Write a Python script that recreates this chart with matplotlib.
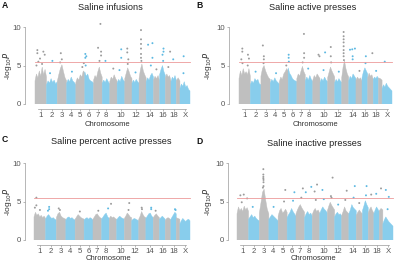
import numpy as np
import matplotlib
matplotlib.use("Agg")
import matplotlib.pyplot as plt

plt.rcParams['font.family'] = ['Liberation Sans', 'DejaVu Sans']

# ---------------- data ----------------
chrom_names = ['1', '2', '3', '4', '5', '6', '7', '8', '9', '10', '11', '12', '13',
               '14', '15', '16', '17', '18', '19', 'X']
chrom_len = [195.5, 182.1, 160.0, 156.5, 151.8, 149.7, 145.4, 129.4, 124.6, 130.7,
             122.1, 120.1, 120.4, 124.9, 104.0, 98.2, 94.9, 90.7, 61.4, 171.0]
tick_labels = ['1', '2', '3', '4', '5', '6', '7', '8', '10', '12', '14', '16', '18', 'X']
titles = ['Saline infusions', 'Saline active presses',
          'Saline percent active presses', 'Saline inactive presses']
letters = ['A', 'B', 'C', 'D']
threshold = 5.4

# top of the dense SNP mass (-log10 P) read along each chromosome
env_A = [[3.0, 3.9, 3.4, 4.3, 3.6, 4.8, 3.8, 4.5, 3.5], [2.5, 3.0, 2.7, 3.3, 2.8, 3.1, 2.6, 2.9],
         [2.9, 3.8, 4.6, 5.1, 4.2, 3.4, 3.0], [2.7, 3.2, 2.9, 3.5, 3.0, 2.8, 2.5],
         [2.8, 3.4, 3.1, 3.8, 3.5, 4.3, 4.0], [4.2, 3.6, 3.9, 3.2, 3.0, 2.9, 2.7],
         [3.1, 3.7, 3.4, 4.2, 4.8, 4.0, 3.5], [2.7, 3.1, 2.8, 3.3, 2.9, 2.6],
         [2.9, 3.5, 3.2, 3.8, 3.3, 3.0], [2.7, 3.2, 2.9, 3.6, 3.1, 2.9],
         [3.3, 4.0, 4.7, 4.2, 3.6, 3.3], [2.7, 3.1, 2.8, 3.2, 2.9, 2.7],
         [3.3, 4.5, 5.2, 4.3, 3.8, 3.4], [2.9, 3.4, 3.1, 3.7, 4.0, 3.5],
         [3.1, 3.6, 3.3, 3.7, 3.0], [3.8, 4.5, 5.0, 4.2, 3.7], [3.4, 3.9, 3.5, 3.7, 3.0],
         [2.9, 3.5, 3.2, 3.7, 3.1], [3.0, 3.4, 3.0], [2.0, 2.6, 2.3, 2.9, 2.2, 2.4, 1.9, 1.7]]
env_B = [[3.3, 4.3, 3.7, 4.6, 3.9, 4.2, 3.8, 4.6, 3.6], [2.5, 3.0, 2.7, 3.3, 3.0, 3.2, 2.6, 2.5],
         [3.6, 4.6, 5.0, 4.3, 3.8, 3.4, 3.2], [2.7, 3.2, 2.9, 3.4, 3.0, 2.8, 2.6],
         [2.9, 3.5, 3.2, 3.9, 4.2, 4.6, 4.3], [4.7, 4.0, 3.7, 3.3, 3.1, 3.0, 2.9],
         [3.3, 3.9, 3.6, 4.3, 4.9, 4.2, 3.8], [3.0, 3.5, 3.1, 3.7, 3.2, 2.9],
         [3.1, 3.7, 3.4, 3.9, 3.6, 3.3], [2.8, 3.3, 3.0, 3.5, 3.1, 2.9],
         [3.4, 4.1, 4.8, 4.3, 3.9, 3.5], [2.8, 3.2, 2.9, 3.3, 3.0, 2.8],
         [3.4, 4.8, 5.6, 4.6, 3.9, 3.5], [3.0, 3.6, 3.3, 3.9, 3.6, 3.3],
         [3.1, 3.5, 3.2, 3.4, 3.0], [3.4, 4.2, 4.7, 4.3, 3.9], [3.4, 4.0, 3.6, 3.8, 3.2],
         [3.2, 3.5, 3.3, 3.6, 3.3], [3.4, 3.3, 3.1], [2.0, 2.5, 2.2, 2.7, 2.3, 2.1, 1.9, 1.7]]
env_C = [[3.0, 3.6, 3.2, 3.4, 3.0, 3.2, 2.9, 3.1, 2.8], [2.7, 3.1, 3.3, 3.0, 2.8, 2.9, 2.7, 2.6],
         [2.9, 3.4, 3.6, 3.1, 2.9, 2.8, 2.7], [2.6, 2.9, 3.0, 2.8, 2.9, 2.7, 2.6],
         [2.7, 3.0, 3.3, 3.1, 2.9, 2.8, 2.7], [2.6, 2.8, 2.9, 2.7, 2.9, 2.8, 2.6],
         [2.7, 3.0, 3.3, 3.4, 3.1, 2.9, 2.8], [2.7, 3.0, 3.3, 3.5, 3.0, 2.8],
         [2.8, 3.1, 2.9, 3.0, 2.8, 2.7], [2.6, 2.9, 3.1, 2.9, 2.8, 2.7],
         [2.8, 3.1, 3.5, 3.3, 3.0, 2.9], [2.5, 2.7, 2.8, 2.7, 2.6, 2.5],
         [2.7, 3.1, 3.7, 3.3, 3.0, 2.9], [2.8, 3.1, 3.4, 3.5, 3.1, 2.9],
         [2.9, 3.2, 3.4, 3.1, 2.9], [2.7, 2.9, 3.1, 2.9, 2.7], [2.5, 2.8, 2.9, 2.8, 2.6],
         [2.7, 3.0, 3.3, 3.6, 3.4], [2.9, 2.8, 2.7], [2.1, 2.5, 2.8, 2.6, 2.4, 2.6, 2.7, 2.5]]
env_D = [[3.4, 4.3, 3.8, 4.1, 3.7, 4.4, 3.9, 4.2, 3.7], [2.7, 3.0, 3.3, 2.9, 3.1, 2.8, 2.6, 2.5],
         [3.5, 4.8, 6.2, 6.6, 5.2, 4.0, 3.4], [2.7, 3.0, 3.3, 3.1, 2.9, 2.7, 2.5],
         [3.1, 3.8, 4.1, 3.5, 3.7, 4.0, 3.6], [2.9, 3.3, 3.6, 4.1, 3.7, 3.4, 3.1],
         [3.4, 3.9, 4.3, 4.6, 4.2, 3.9, 3.6], [2.9, 3.4, 3.7, 3.3, 3.5, 3.1],
         [3.3, 3.8, 4.1, 3.7, 3.9, 3.5], [3.4, 3.9, 4.3, 4.0, 3.8, 3.5],
         [3.8, 4.4, 4.9, 4.5, 4.2, 3.9], [3.0, 3.4, 3.6, 3.3, 3.4, 3.1],
         [3.2, 3.7, 4.3, 3.8, 3.6, 3.4], [3.4, 3.9, 4.6, 4.2, 4.0, 3.8],
         [3.2, 3.6, 3.9, 3.6, 3.4], [3.8, 4.4, 5.1, 4.6, 4.2], [3.5, 4.0, 4.3, 3.8, 3.5],
         [3.4, 3.9, 4.3, 4.0, 3.7], [3.8, 4.1, 3.9], [2.1, 2.6, 3.0, 2.7, 2.4, 2.2, 2.0, 1.8]]

# isolated SNPs: (chromosome, position within chromosome in Mb, -log10 P)
top_A = [('1', 40, 7.0), ('1', 40, 6.6), ('1', 57, 5.5), ('1', 85, 5.9), ('1', 142, 6.8),
         ('1', 165, 6.4), ('1', 120, 5.2), ('1', 25, 5.0), ('2', 100, 5.6), ('2', 60, 4.0),
         ('3', 61, 6.6), ('3', 78, 5.8), ('3', 50, 5.4), ('4', 90, 4.2), ('5', 110, 4.8),
         ('5', 135, 5.3), ('6', 9, 6.5), ('6', 9, 6.0), ('6', 26, 6.2), ('6', 15, 5.0),
         ('7', 76, 7.3), ('7', 116, 10.4), ('7', 127, 6.8), ('7', 127, 6.3), ('7', 100, 5.6),
         ('8', 56, 5.6), ('9', 60, 4.6), ('10', 70, 7.1), ('10', 70, 6.0), ('10', 40, 4.4),
         ('11', 42, 7.2), ('11', 42, 6.7), ('11', 60, 5.8), ('11', 50, 5.2), ('12', 60, 4.1),
         ('13', 33, 9.6), ('13', 33, 8.4), ('13', 33, 7.8), ('13', 33, 7.2), ('13', 33, 6.5),
         ('13', 33, 6.0), ('13', 40, 5.6), ('14', 33, 7.7), ('14', 107, 7.9), ('14', 107, 6.0),
         ('14', 80, 5.0), ('15', 50, 4.5), ('16', 66, 7.2), ('16', 66, 6.8), ('16', 49, 6.4),
         ('16', 60, 5.6), ('17', 80, 6.8), ('17', 50, 4.8), ('18', 38, 5.8), ('X', 63, 6.2),
         ('X', 60, 4.0)]
top_B = [('1', 57, 7.2), ('1', 57, 6.8), ('1', 40, 5.8), ('1', 154, 6.4), ('1', 171, 5.9),
         ('1', 60, 5.3), ('1', 150, 5.0), ('2', 90, 4.2), ('3', 33, 7.6), ('3', 50, 6.2),
         ('3', 50, 5.8), ('3', 45, 5.3), ('4', 100, 4.0), ('5', 120, 5.0), ('6', 9, 6.4),
         ('6', 9, 6.0), ('6', 12, 5.5), ('7', 122, 9.1), ('7', 125, 6.6), ('7', 125, 6.0),
         ('7', 100, 5.4), ('8', 50, 4.6), ('9', 98, 6.4), ('9', 115, 6.2), ('10', 87, 6.7),
         ('10', 60, 4.4), ('11', 54, 7.4), ('11', 54, 6.2), ('11', 60, 5.4), ('12', 70, 4.2),
         ('13', 33, 9.35), ('13', 33, 8.8), ('13', 33, 8.4), ('13', 33, 8.0), ('13', 33, 7.5),
         ('13', 33, 7.0), ('13', 33, 6.6), ('13', 33, 6.2), ('13', 38, 5.7), ('14', 22, 7.05),
         ('14', 61, 7.1), ('14', 107, 7.2), ('14', 68, 6.2), ('14', 68, 5.8), ('15', 60, 4.3),
         ('16', 66, 6.2), ('16', 60, 5.3), ('17', 80, 6.6), ('18', 50, 4.3), ('X', 46, 5.5)]
top_C = [('1', 40, 5.5), ('1', 40, 4.5), ('1', 15, 4.2), ('1', 100, 3.9), ('2', 60, 4.3),
         ('2', 60, 4.0), ('2', 40, 3.8), ('3', 40, 4.1), ('3', 60, 3.9), ('5', 80, 3.7),
         ('7', 90, 3.8), ('8', 110, 4.1), ('9', 30, 4.7), ('11', 82, 4.8), ('11', 70, 3.9),
         ('13', 50, 4.2), ('13', 55, 4.0), ('14', 90, 4.2), ('14', 90, 4.0), ('15', 40, 3.8),
         ('18', 70, 4.0), ('18', 80, 3.9)]
top_D = [('1', 57, 5.8), ('1', 114, 5.9), ('1', 171, 5.4), ('1', 80, 4.9), ('2', 70, 4.3),
         ('3', 67, 9.2), ('3', 67, 8.5), ('3', 67, 8.2), ('3', 67, 8.0), ('3', 70, 7.8),
         ('3', 70, 7.5), ('3', 70, 7.0), ('3', 60, 6.8), ('4', 80, 4.3), ('5', 121, 6.5),
         ('5', 100, 5.0), ('6', 123, 6.2), ('6', 100, 5.1), ('7', 116, 6.7), ('7', 90, 5.5),
         ('8', 20, 6.2), ('8', 113, 6.9), ('9', 81, 7.2), ('9', 40, 6.3), ('9', 60, 5.2),
         ('10', 47, 6.5), ('10', 70, 5.3), ('11', 88, 8.1), ('11', 70, 5.5), ('11', 60, 5.7),
         ('12', 60, 4.6), ('13', 84, 6.4), ('13', 60, 5.2), ('14', 100, 7.0), ('14', 80, 5.5),
         ('15', 50, 4.8), ('16', 70, 7.0), ('16', 60, 5.8), ('17', 50, 5.9), ('18', 40, 6.0),
         ('19', 30, 6.7), ('X', 50, 6.5), ('X', 100, 5.6), ('X', 80, 4.0)]

envelopes = [env_A, env_B, env_C, env_D]
tops = [top_A, top_B, top_C, top_D]

# ---------------- layout (pixels) ----------------
W, H = 394, 264
GRAY = '#bfbfbf'
BLUE = '#88cdec'
DOT_GRAY = '#9c9c9c'
DOT_BLUE = '#5db9e2'
# spine_x, data_x0, data_x1, right_x, y0_px, y10_px
layout = [(25, 35, 190, 193, 104, 27),
          (229, 239, 392, 394, 104, 27),
          (25, 34, 190, 193, 240, 163),
          (228, 237, 393, 394, 240, 163)]
title_pos = [(110, 7), (313, 7), (111, 142), (314, 143)]
xlab_pos = [(107, 125), (315, 125), (108, 259), (313, 259)]
ylab_x = [8, 208, 8, 208]
letter_pos = [(2, 5), (196, 5), (2, 139), (196, 141)]

starts = np.concatenate([[0], np.cumsum(chrom_len)[:-1]])
total = float(np.sum(chrom_len))
centers = starts + np.array(chrom_len) / 2
cidx = {c: i for i, c in enumerate(chrom_names)}

fig = plt.figure(figsize=(W / 100, H / 100), dpi=100)
TOPV = 10.6

for p in range(4):
    sx, dx0, dx1, rx, y0, y10 = layout[p]
    ppu = (y0 - y10) / 10.0
    top_px = y0 - TOPV * ppu
    ax = fig.add_axes([sx / W, (H - y0) / H, (rx - sx) / W, (y0 - top_px) / H])
    ppm = (dx1 - dx0) / total
    ax.set_xlim(-(dx0 - sx) / ppm, total + (rx - dx1) / ppm)
    ax.set_ylim(0, TOPV)

    for i, vals in enumerate(envelopes[p]):
        s, e = starts[i], starts[i] + chrom_len[i]
        xs = np.linspace(s, e, len(vals))
        col = GRAY if i % 2 == 0 else BLUE
        ax.fill(np.r_[s, xs, e], np.r_[0, vals, 0], color=col, lw=0.3, ec=col, zorder=2)

    px = [starts[cidx[c]] + pos for c, pos, v in tops[p]]
    pv = [v for c, pos, v in tops[p]]
    pc = [DOT_GRAY if cidx[c] % 2 == 0 else DOT_BLUE for c, pos, v in tops[p]]
    ax.scatter(px, pv, s=2.0, c=pc, lw=0, zorder=3)

    ax.plot([0, total], [threshold, threshold], color='#ec9a9a', lw=0.6, zorder=4)

    for sp in ['top', 'right']:
        ax.spines[sp].set_visible(False)
    ax.spines['left'].set_bounds(0, 10)
    ax.spines['bottom'].set_position(('outward', 4.5 * 72 / 100))
    tick_x = [centers[cidx[t]] for t in tick_labels]
    ax.spines['bottom'].set_bounds(tick_x[0] - 40, tick_x[-1] + 20)
    for sp in ['left', 'bottom']:
        ax.spines[sp].set_color('#9a9a9a')
        ax.spines[sp].set_linewidth(0.5)
    ax.set_yticks([0, 5, 10])
    ax.set_xticks(tick_x)
    ax.set_xticklabels(tick_labels)
    ax.tick_params(axis='both', labelsize=5.6, colors='#9a9a9a', labelcolor='#555555',
                   length=1.5, width=0.5, pad=1.2)
    ax.patch.set_alpha(0)

    fig.text(title_pos[p][0] / W, 1 - title_pos[p][1] / H, titles[p], ha='center',
             va='center', fontsize=6.6, color='#222222')
    fig.text(xlab_pos[p][0] / W, 1 - xlab_pos[p][1] / H, 'Chromosome', ha='center',
             va='center', fontsize=5.5, color='#333333')
    fig.text(ylab_x[p] / W, 1 - ((y0 + y10) / 2) / H, r'-log$_{10}$$\it{P}$', ha='center',
             va='center', rotation=90, fontsize=6.0, color='#333333')
    fig.text(letter_pos[p][0] / W, 1 - letter_pos[p][1] / H, letters[p], ha='left',
             va='center', fontsize=6.2, fontweight='bold', color='#111111')

fig.savefig('out.png', dpi=100)
